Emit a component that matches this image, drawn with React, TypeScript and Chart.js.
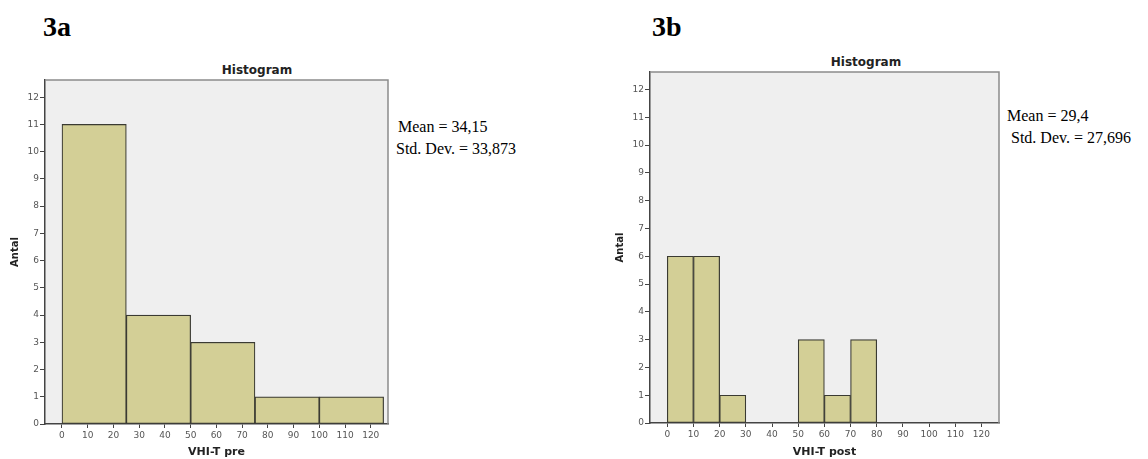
import React, { useEffect, useRef } from "react";
import { Chart, registerables } from "chart.js";

Chart.register(...registerables);

// ---- data ----
const preBinStarts = [0, 25, 50, 75, 100];
const preBinWidth = 25;
const preCounts = [11, 4, 3, 1, 1];

const postBinStarts = [0, 10, 20, 50, 60, 70];
const postBinWidth = 10;
const postCounts = [6, 6, 1, 3, 1, 3];

const xTickValues = [0, 10, 20, 30, 40, 50, 60, 70, 80, 90, 100, 110, 120];
const yTickValues = [0, 1, 2, 3, 4, 5, 6, 7, 8, 9, 10, 11, 12];

const panelLabels = ["3a", "3b"];
const chartTitle = "Histogram";
const yAxisTitle = "Antal";
const xAxisTitles = ["VHI-T pre", "VHI-T post"];
const statsMean = ["Mean = 34,15", "Mean = 29,4"];
const statsStd = ["Std. Dev. = 33,873", "Std. Dev. = 27,696"];

const X_MIN = -6.6;
const X_MAX = 126.7;
const Y_MAX = 12.63;

const BAR_FILL = "#d3cf96";
const BAR_EDGE = "#3a3a32";
const PLOT_BG = "#efefef";
const FRAME = "#8c8c8c";
const AXIS = "#444";
const TICK_TEXT = "#555";

const plotFramePlugin = {
  id: "plotFrame",
  beforeDraw(chart: any) {
    const { ctx, chartArea } = chart;
    ctx.save();
    ctx.fillStyle = PLOT_BG;
    ctx.fillRect(chartArea.left, chartArea.top, chartArea.right - chartArea.left, chartArea.bottom - chartArea.top);
    ctx.restore();
  },
  afterDraw(chart: any) {
    const { ctx, chartArea } = chart;
    ctx.save();
    ctx.strokeStyle = FRAME;
    ctx.lineWidth = 1.5;
    ctx.beginPath();
    ctx.moveTo(chartArea.left, chartArea.top);
    ctx.lineTo(chartArea.right, chartArea.top);
    ctx.lineTo(chartArea.right, chartArea.bottom);
    ctx.stroke();
    ctx.restore();
  },
};

type HistProps = {
  starts: number[];
  width: number;
  counts: number[];
  xTitle: string;
  canvasW: number;
  canvasH: number;
  padTop: number;
  padRight: number;
  xAxisH: number;
};

function Histogram(p: HistProps) {
  const ref = useRef<HTMLCanvasElement | null>(null);
  useEffect(() => {
    if (!ref.current) return;
    const data = p.starts.map((s, i) => ({ x: s + p.width / 2, y: p.counts[i] }));
    const chart = new Chart(ref.current, {
      type: "bar",
      data: {
        datasets: [
          {
            data: data as any,
            xAxisID: "xBins",
            backgroundColor: BAR_FILL,
            borderColor: BAR_EDGE,
            borderWidth: 1.2,
            borderSkipped: false,
            barPercentage: 1,
            categoryPercentage: 1,
          },
        ],
      },
      options: {
        responsive: false,
        animation: false,
        layout: { padding: { left: 0, right: p.padRight, top: p.padTop, bottom: 0 } },
        plugins: { legend: { display: false }, tooltip: { enabled: false }, title: { display: false } },
        scales: {
          xBins: {
            type: "linear",
            position: "bottom",
            display: false,
            offset: false,
            min: X_MIN,
            max: X_MAX,
            afterBuildTicks: (s: any) => {
              s.ticks = [];
            },
          },
          x: {
            type: "linear",
            position: "bottom",
            offset: false,
            min: X_MIN,
            max: X_MAX,
            afterBuildTicks: (s: any) => {
              s.ticks = xTickValues.map((v) => ({ value: v }));
            },
            afterFit: (s: any) => {
              s.height = p.xAxisH;
            },
            grid: { offset: false, drawOnChartArea: false, drawTicks: true, tickLength: 4, color: AXIS, lineWidth: 1 },
            border: { display: true, color: AXIS, width: 1.5 },
            ticks: {
              autoSkip: false,
              maxRotation: 0,
              padding: 2,
              color: TICK_TEXT,
              font: { family: "DejaVu Sans", size: 9 },
            },
            title: {
              display: true,
              text: p.xTitle,
              color: "#222",
              font: { family: "DejaVu Sans", size: 11, weight: "bold" },
              padding: { top: 0, bottom: 0 },
            },
          },
          y: {
            type: "linear",
            min: 0,
            max: Y_MAX,
            afterBuildTicks: (s: any) => {
              s.ticks = yTickValues.map((v) => ({ value: v }));
            },
            afterFit: (s: any) => {
              s.width = 45;
            },
            grid: { drawOnChartArea: false, drawTicks: true, tickLength: 5, color: AXIS, lineWidth: 1 },
            border: { display: true, color: AXIS, width: 1.5 },
            ticks: {
              autoSkip: false,
              padding: 1,
              color: TICK_TEXT,
              font: { family: "DejaVu Sans", size: 9 },
            },
            title: {
              display: true,
              text: yAxisTitle,
              color: "#222",
              font: { family: "DejaVu Sans", size: 10, weight: "bold" },
              padding: { top: 9, bottom: 0 },
            },
          },
        },
      } as any,
      plugins: [plotFramePlugin],
    });
    return () => chart.destroy();
  }, []);
  return <canvas ref={ref} width={p.canvasW} height={p.canvasH} style={{ display: "block", width: p.canvasW, height: p.canvasH }} />;
}

const abs = (left: number, top: number, extra: React.CSSProperties = {}): React.CSSProperties => ({
  position: "absolute",
  left,
  top,
  whiteSpace: "nowrap",
  ...extra,
});

const labelStyle: React.CSSProperties = {
  fontFamily: "'Liberation Serif', 'Times New Roman', serif",
  fontWeight: "bold",
  fontSize: 28,
  lineHeight: "28px",
  color: "#000",
};
const statStyle: React.CSSProperties = {
  fontFamily: "'Liberation Serif', 'Times New Roman', serif",
  fontSize: 16,
  lineHeight: "16px",
  color: "#000",
};
const titleStyle: React.CSSProperties = {
  fontFamily: "'DejaVu Sans', sans-serif",
  fontWeight: "bold",
  fontSize: 12,
  lineHeight: "14px",
  color: "#222",
  transform: "translateX(-50%)",
};

export default function App() {
  return (
    <div style={{ position: "absolute", left: 0, top: 0, width: 1148, height: 459, overflow: "hidden", background: "#fff" }}>
      <div style={abs(43, 13, labelStyle)}>{panelLabels[0]}</div>
      <div style={abs(652, 13, labelStyle)}>{panelLabels[1]}</div>

      <div style={abs(257, 63, titleStyle)}>{chartTitle}</div>
      <div style={abs(866, 55, titleStyle)}>{chartTitle}</div>

      <div style={abs(0, 55)}>
        <Histogram starts={preBinStarts} width={preBinWidth} counts={preCounts} xTitle={xAxisTitles[0]}
          canvasW={395} canvasH={404} padTop={25} padRight={7} xAxisH={35} />
      </div>
      <div style={abs(605, 55)}>
        <Histogram starts={postBinStarts} width={postBinWidth} counts={postCounts} xTitle={xAxisTitles[1]}
          canvasW={400} canvasH={404} padTop={17} padRight={6} xAxisH={36} />
      </div>

      <div style={abs(398, 119, statStyle)}>{statsMean[0]}</div>
      <div style={abs(396, 141, statStyle)}>{statsStd[0]}</div>
      <div style={abs(1007, 108, statStyle)}>{statsMean[1]}</div>
      <div style={abs(1011, 130, statStyle)}>{statsStd[1]}</div>
    </div>
  );
}
